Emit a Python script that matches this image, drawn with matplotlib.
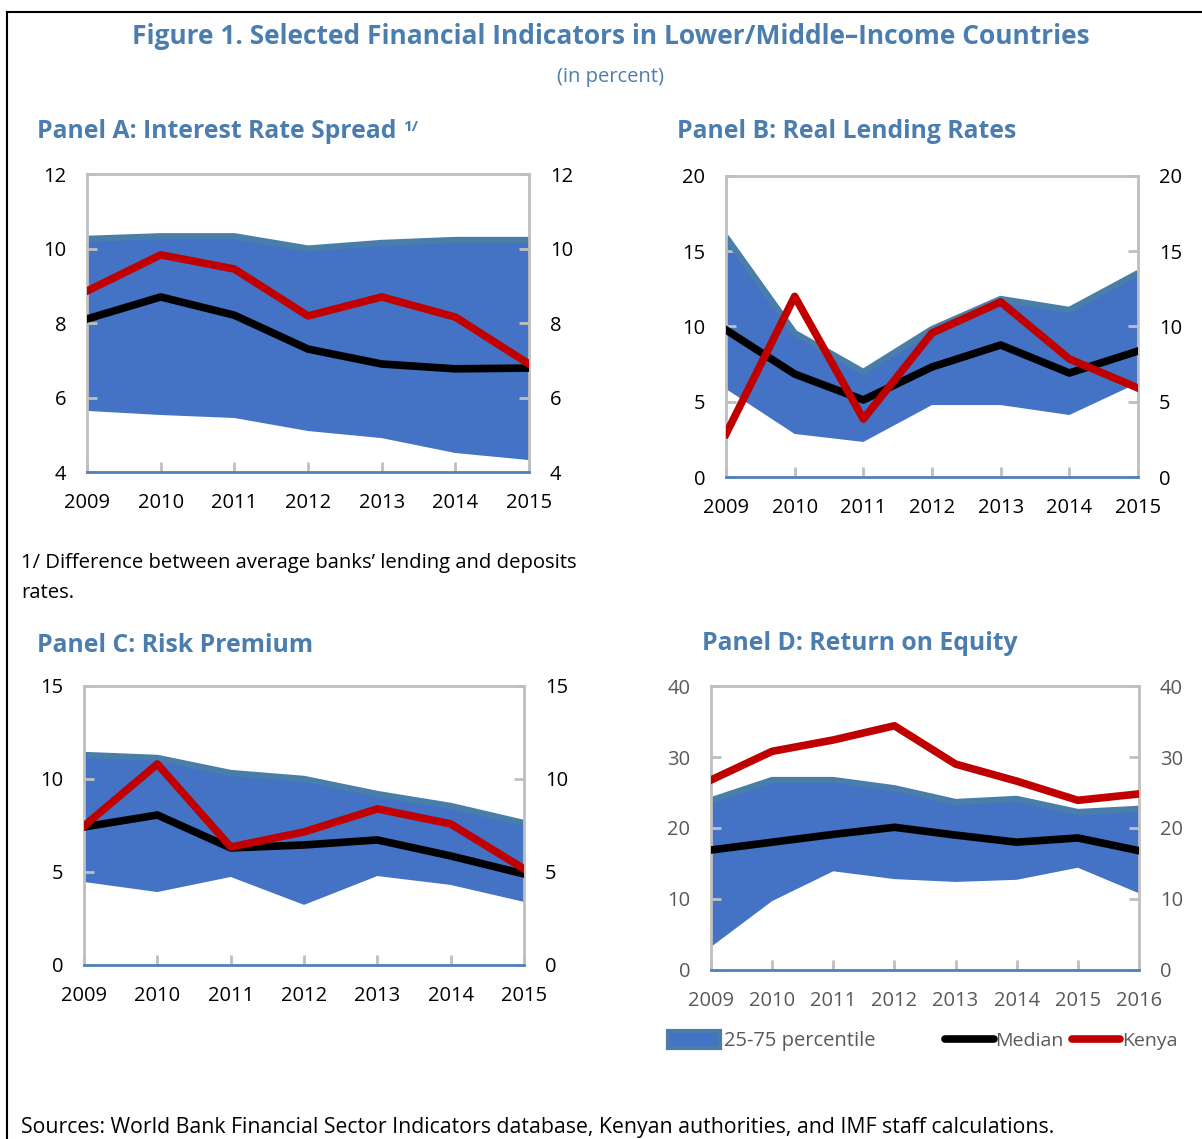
import numpy as np
import matplotlib
matplotlib.use('Agg')
import matplotlib.pyplot as plt
from matplotlib.lines import Line2D
from matplotlib.patches import Patch

plt.rcParams['font.family'] = ['Open Sans', 'DejaVu Sans']

years_a = [2009, 2010, 2011, 2012, 2013, 2014, 2015]
years_d = [2009, 2010, 2011, 2012, 2013, 2014, 2015, 2016]

# Panel A: interest rate spread
a_p25 = [5.64, 5.53, 5.45, 5.10, 4.91, 4.51, 4.32]
a_p75 = [10.26, 10.33, 10.33, 10.00, 10.15, 10.23, 10.23]
a_med = [8.11, 8.70, 8.21, 7.30, 6.90, 6.77, 6.79]
a_ken = [8.86, 9.83, 9.45, 8.19, 8.70, 8.16, 6.90]

# Panel B: real lending rates
b_p25 = [5.85, 2.86, 2.33, 4.78, 4.78, 4.12, 6.25]
b_p75 = [15.95, 9.57, 6.98, 9.83, 11.83, 11.10, 13.55]
b_med = [9.77, 6.84, 5.12, 7.31, 8.77, 6.91, 8.37]
b_ken = [2.86, 12.0, 3.85, 9.57, 11.63, 7.84, 5.91]

# Panel C: risk premium
c_p25 = [4.46, 3.92, 4.73, 3.23, 4.78, 4.30, 3.39]
c_p75 = [11.29, 11.13, 10.32, 10.00, 9.19, 8.55, 7.63]
c_med = [7.42, 8.06, 6.29, 6.45, 6.72, 5.86, 4.89]
c_ken = [7.47, 10.8, 6.34, 7.15, 8.39, 7.58, 5.16]

# Panel D: return on equity
d_p25 = [3.24, 9.7, 13.9, 12.8, 12.4, 12.7, 14.4, 10.8]
d_p75 = [23.9, 26.76, 26.76, 25.6, 23.66, 24.1, 22.25, 22.7]
d_med = [16.9, 18.0, 19.1, 20.1, 19.0, 18.0, 18.6, 16.8]
d_ken = [26.76, 30.8, 32.4, 34.4, 29.0, 26.6, 23.9, 24.8]

FILL = '#4472C4'
EDGE = '#4A7EAA'
RED = '#C00000'
TITLE = '#4B7EAF'
GRID = '#BFBFBF'

fig = plt.figure(figsize=(12.02, 11.39), dpi=100)

# outer frame (right side runs off the page)
fig.add_artist(Line2D([7/1202, 7/1202], [0, 1-12/1139], color='black', lw=1.5))
fig.add_artist(Line2D([7/1202, 1], [1-12/1139, 1-12/1139], color='black', lw=1.5))


def panel(rect, years, p25, p75, med, ken, ylim, yticks, lab_color='black'):
    ax = fig.add_axes(rect)
    ax.fill_between(years, p25, p75, facecolor=FILL, edgecolor='none', zorder=1)
    ax.plot(years, p75, color=EDGE, lw=4.5, zorder=2, solid_capstyle='butt')
    ax.plot(years, med, color='black', lw=5.5, zorder=3)
    ax.plot(years, ken, color=RED, lw=5.5, zorder=4)
    ax.set_xlim(years[0], years[-1])
    ax.set_ylim(*ylim)
    ax.set_xticks(years)
    ax.set_xticklabels([str(y) for y in years])
    ax.set_yticks(yticks)
    for s in ['top', 'left', 'right']:
        ax.spines[s].set_color(GRID)
        ax.spines[s].set_linewidth(2)
    ax.spines['bottom'].set_color('#4F81BD')
    ax.spines['bottom'].set_linewidth(2)
    ax.tick_params(axis='y', direction='in', length=7, width=2, color=GRID,
                   left=True, right=True, labelleft=True, labelright=True,
                   pad=15, labelsize=14.5, labelcolor=lab_color)
    ax.tick_params(axis='x', direction='in', length=7, width=2, color=GRID,
                   pad=15, labelsize=14.5, labelcolor=lab_color)
    return ax


axA = panel([0.0724, 0.5856, 0.3677, 0.2616], years_a, a_p25, a_p75, a_med, a_ken,
            (4, 12), [4, 6, 8, 10, 12])
axB = panel([0.6040, 0.5812, 0.3428, 0.2643], years_a, b_p25, b_p75, b_med, b_ken,
            (0, 20), [0, 5, 10, 15, 20])
axC = panel([0.0699, 0.1528, 0.3661, 0.2450], years_a, c_p25, c_p75, c_med, c_ken,
            (0, 15), [0, 5, 10, 15])
axD = panel([0.5915, 0.1484, 0.3561, 0.2493], years_d, d_p25, d_p75, d_med, d_ken,
            (0, 40), [0, 10, 20, 30, 40], lab_color='#595959')

fig.text(0.508, 0.968, 'Figure 1. Selected Financial Indicators in Lower/Middle\u2013Income Countries',
         ha='center', va='center', fontsize=19, fontweight='bold', color=TITLE)
fig.text(0.508, 0.932, '(in percent)', ha='center', va='center', fontsize=14.5, color=TITLE)

ta = fig.text(37/1202, 1-131/1139, 'Panel A: Interest Rate Spread', ha='left', va='center',
              fontsize=17.8, fontweight='bold', color=TITLE)
axA.annotate('1/', xy=(1, 1), xycoords=ta, xytext=(5, -1), textcoords='offset points',
             ha='left', va='top', fontsize=11, fontweight='bold', color=TITLE)
fig.text(677/1202, 1-131/1139, 'Panel B: Real Lending Rates', ha='left', va='center',
         fontsize=17.8, fontweight='bold', color=TITLE)
fig.text(37/1202, 1-645/1139, 'Panel C: Risk Premium', ha='left', va='center',
         fontsize=17.8, fontweight='bold', color=TITLE)
fig.text(702/1202, 1-643/1139, 'Panel D: Return on Equity', ha='left', va='center',
         fontsize=17.8, fontweight='bold', color=TITLE)

fig.text(21/1202, 1-563/1139, '1/ Difference between average banks\u2019 lending and deposits',
         ha='left', va='center', fontsize=14.6, color='black')
fig.text(21/1202, 1-593/1139, 'rates.', ha='left', va='center', fontsize=14.6, color='black')
fig.text(21/1202, 1-1128/1139,
         'Sources: World Bank Financial Sector Indicators database, Kenyan authorities, and IMF staff calculations.',
         ha='left', va='center', fontsize=15.3, color='black')

# legend
band_h = Patch(facecolor=FILL, edgecolor=EDGE, linewidth=3, label='25-75 percentile')
med_h = Line2D([], [], color='black', lw=5.5, solid_capstyle='round', label='Median')
ken_h = Line2D([], [], color=RED, lw=5.5, solid_capstyle='round', label='Kenya')
leg1 = fig.legend(handles=[band_h], loc='center left', bbox_to_anchor=(668/1202, 1-1041/1139),
                  frameon=False, fontsize=14.5, handlelength=2.6, handleheight=0.9,
                  handletextpad=0.2, borderpad=0, borderaxespad=0)
for t in leg1.get_texts():
    t.set_color('#595959')
leg2 = fig.legend(handles=[med_h, ken_h], loc='center left', bbox_to_anchor=(945/1202, 1-1041/1139),
                  frameon=False, fontsize=14, ncol=2, handlelength=2.5,
                  handletextpad=0.1, columnspacing=0.4, borderpad=0, borderaxespad=0)
for t in leg2.get_texts():
    t.set_color('#595959')

fig.savefig('out.png', dpi=100)
